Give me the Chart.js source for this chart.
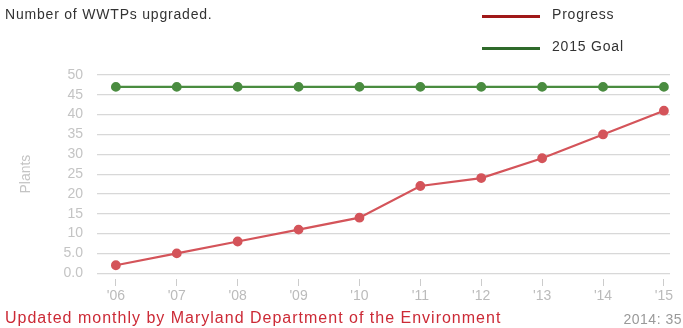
<!DOCTYPE html>
<html>
<head>
<meta charset="utf-8">
<script src="https://cdn.jsdelivr.net/npm/chart.js@4"></script>
<style>
  html, body { margin: 0; padding: 0; background: #fff; }
  #wrap { position: relative; width: 683px; height: 328px; font-family: "Liberation Sans", Arial, sans-serif; overflow: hidden; }
  #chart { position: absolute; left: 0; top: 0; }
  .txt { position: absolute; font-size: 14px; letter-spacing: 0.8px; white-space: nowrap; }
  .leg { position: absolute; width: 58px; height: 3px; }
</style>
</head>
<body>
<div id="wrap">
  <canvas id="chart" width="683" height="328"></canvas>
  <div class="txt" style="left:5px; top:6px; color:#333;">Number of WWTPs upgraded.</div>
  <div class="leg" style="left:482px; top:15px; background:#a01818;"></div>
  <div class="txt" style="left:552px; top:6px; color:#333;">Progress</div>
  <div class="leg" style="left:482px; top:47px; background:#2f6a2a;"></div>
  <div class="txt" style="left:552px; top:38px; color:#333;">2015 Goal</div>
  <div class="txt" style="left:5px; top:309px; color:#cc2a36; font-size:16px; letter-spacing:1px;">Updated monthly by Maryland Department of the Environment</div>
  <div class="txt" style="right:1px; top:311px; color:#999; letter-spacing:0.5px;">2014: 35</div>
</div>
<script>
// --- Data ---
const years    = ["'06", "'07", "'08", "'09", "'10", "'11", "'12", "'13", "'14", "'15"];
const progress = [2, 5, 8, 11, 14, 22, 24, 29, 35, 41];
const goal     = [47, 47, 47, 47, 47, 47, 47, 47, 47, 47];

const toXY = arr => arr.map((v, i) => ({ x: i, y: v }));

const ctx = document.getElementById('chart').getContext('2d');
const tickFont = { size: 14, family: 'Liberation Sans' };

new Chart(ctx, {
  type: 'line',
  data: {
    datasets: [
      {
        label: '2015 Goal',
        data: toXY(goal),
        borderColor: '#4a8c40',
        backgroundColor: '#4a8c40',
        borderWidth: 2.2,
        pointRadius: 3.8,
        fill: false
      },
      {
        label: 'Progress',
        data: toXY(progress),
        borderColor: '#d4545a',
        backgroundColor: '#d4545a',
        borderWidth: 2.2,
        pointRadius: 3.8,
        fill: false
      }
    ]
  },
  options: {
    responsive: false,
    animation: false,
    layout: { padding: { left: 0, right: 13, top: 75, bottom: 21 } },
    plugins: { legend: { display: false }, tooltip: { enabled: false } },
    scales: {
      x: {
        type: 'linear',
        min: -0.31,
        max: 9.1,
        afterBuildTicks: axis => { axis.ticks = years.map((_, i) => ({ value: i })); },
        ticks: {
          color: '#bbb',
          font: tickFont,
          padding: 2,
          callback: v => years[v]
        },
        grid: {
          display: true,
          drawOnChartArea: false,
          drawTicks: true,
          tickLength: 13,
          tickBorderDash: [0, 6, 7, 20],
          tickColor: '#ccc'
        },
        border: { display: false }
      },
      y: {
        min: 0,
        max: 50,
        afterFit: axis => { axis.width = 97; },
        ticks: {
          stepSize: 5,
          color: '#c4c4c4',
          font: tickFont,
          padding: 14,
          callback: v => (v < 10 ? v.toFixed(1) : v)
        },
        title: {
          display: true,
          text: 'Plants',
          color: '#c4c4c4',
          font: tickFont,
          padding: { top: 18, bottom: 0 }
        },
        grid: { color: '#d8d8d8', drawTicks: false, lineWidth: 1.2 },
        border: { display: false }
      }
    }
  }
});
</script>
</body>
</html>
